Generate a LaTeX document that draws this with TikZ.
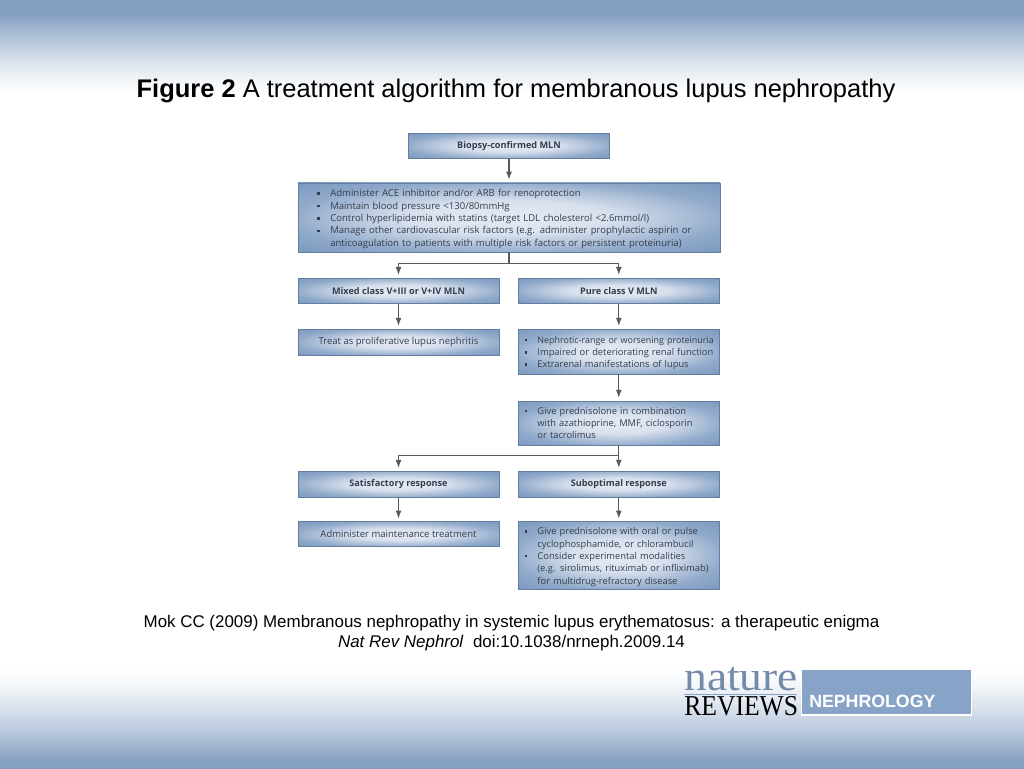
\documentclass[tikz,border=0pt]{standalone}
\usepackage{fontspec}
\setmainfont{Liberation Sans}
\newfontfamily\boxfont{Open Sans}
\newfontfamily\logoserif{Liberation Serif}
\usetikzlibrary{arrows.meta}
\definecolor{bandblue}{RGB}{133,160,195}
\definecolor{boxedge}{RGB}{116,148,188}
\definecolor{boxglow}{RGB}{230,235,244}
\definecolor{boxink}{RGB}{52,62,78}
\definecolor{lineink}{RGB}{84,90,98}
\definecolor{logoblue}{RGB}{136,163,200}
\pgfdeclareradialshading{boxshade}{\pgfpointorigin}{%
  color(0bp)=(boxglow); color(12bp)=(boxglow!88!boxedge); color(26bp)=(boxedge!75!boxglow); color(38bp)=(boxedge); color(50bp)=(boxedge)}
\tikzset{
  x=0.75pt,y=-0.75pt,
  fbox/.style={shading=boxshade,draw=boxedge!85!black,line width=0.4pt,inner sep=0pt,font=\boxfont\fontsize{7.15}{9.3}\selectfont,text=boxink},
  headbox/.style={fbox,font=\boxfont\bfseries\fontsize{6.85}{9.3}\selectfont,align=center},
  textbox/.style={fbox,align=center},
  listbox/.style={fbox,align=left},
  sidebox/.style={listbox,font=\boxfont\fontsize{7}{9.2}\selectfont,text width=150pt,minimum width=151pt},
  conn/.style={draw=lineink,line width=0.8pt},
  arr/.style={conn,-{Latex[length=6pt,width=4.5pt]},shorten >=2.2pt}
}
\newcommand{\sqb}{\rule[1.5pt]{1.8pt}{1.8pt}}
\newcommand{\itm}{\hspace*{14pt}\llap{\sqb\hspace{7.5pt}}}
\newcommand{\ind}{\hspace*{14pt}}
\newcommand{\itmb}{\hspace*{24pt}\llap{\sqb\hspace{8.1pt}}}
\newcommand{\topgap}{\rule{0pt}{7.8pt}}
\begin{document}
\begin{tikzpicture}
\useasboundingbox (0,0) rectangle (1024,768);
\fill[white] (0,0) rectangle (1024,768);
\foreach \yy in {0,...,95}{
  \pgfmathsetmacro\pct{100*min(1,max(0,(95-\yy)/80))^1.35}
  \fill[bandblue!\pct!white] (0,\yy) rectangle (1024,\yy+1.5);
}
\foreach \yy in {668,...,767}{
  \pgfmathsetmacro\pct{100*min(1,max(0,(\yy-668)/94))^1.35}
  \fill[bandblue!\pct!white] (0,\yy) rectangle (1024,\yy+1.5);
}

\node[font=\fontsize{19.1}{22}\selectfont,text=black] (title) at (516,91) {\textbf{Figure 2} A treatment algorithm for membranous lupus nephropathy};

\node[headbox,minimum width=150.5pt,minimum height=19pt] (bio) at (509,145.7) {Biopsy-confirmed MLN};
\node[listbox,minimum width=316.5pt,minimum height=52pt,text width=316pt] (plan) at (509,217.5) {%
 \itmb\topgap Administer ACE inhibitor and/or ARB for renoprotection\\
 \itmb Maintain blood pressure <130/80mmHg\\
 \itmb Control hyperlipidemia with statins (target LDL cholesterol <2.6mmol/l)\\
 \itmb Manage other cardiovascular risk factors (e.g. administer prophylactic aspirin or\\
 \hspace*{24pt}anticoagulation to patients with multiple risk factors or persistent proteinuria)};
\node[headbox,minimum width=150.5pt,minimum height=19pt] (mixed) at (398.5,290.7) {Mixed class V+III or V+IV MLN};
\node[headbox,minimum width=151pt,minimum height=19pt] (pure) at (618.8,290.7) {Pure class V MLN};
\node[textbox,minimum width=150.5pt,minimum height=19.5pt] (treat) at (398.5,342) {Treat as proliferative lupus nephritis};
\node[sidebox,minimum height=33.7pt] (neph) at (618.8,351.5) {%
 \itm\topgap{\fontsize{6.7}{9.2}\selectfont Nephrotic-range or worsening proteinuria}\\
 \itm Impaired or deteriorating renal function\\
 \itm Extrarenal manifestations of lupus};
\node[sidebox,minimum height=33pt] (give) at (618.8,423) {%
 \itm Give prednisolone in combination\\
 \ind with azathioprine, MMF, ciclosporin\\
 \ind or tacrolimus};
\node[sidebox,font=\boxfont\fontsize{7}{9.35}\selectfont,minimum height=50.5pt] (final) at (618.8,555.4) {%
 \itm\topgap Give prednisolone with oral or pulse\\
 \ind cyclophosphamide, or chlorambucil\\
 \itm Consider experimental modalities\\
 \ind (e.g. sirolimus, rituximab or infliximab)\\
 \ind for multidrug-refractory disease};
\node[headbox,minimum width=150.5pt,minimum height=19.5pt] (sat) at (398.5,484) {Satisfactory response};
\node[headbox,minimum width=151pt,minimum height=19.5pt] (sub) at (618.8,484) {Suboptimal response};
\node[textbox,minimum width=150.5pt,minimum height=18.7pt] (maint) at (398.5,534.2) {Administer maintenance treatment};

\coordinate (j1) at (plan.south |- 0,263.5);
\coordinate (j2) at (give.south |- 0,455.5);
\draw[arr] (bio) -- (plan);
\draw[conn] (plan) -- (j1);
\draw[arr] (j1) -| (mixed);
\draw[arr] (j1) -| (pure);
\draw[arr] (mixed) -- (treat);
\draw[arr] (pure) -- (neph);
\draw[arr] (neph) -- (give);
\draw[conn] (give) -- (j2);
\draw[arr] (j2) -| (sat);
\draw[arr] (j2) -- (sub);
\draw[arr] (sat) -- (maint);
\draw[arr] (sub) -- (final);

\node[font=\fontsize{12.7}{15.2}\selectfont,align=center,text=black] (cite) at (511.5,633) {Mok CC (2009) Membranous nephropathy in systemic lupus erythematosus: a therapeutic enigma\\ \textit{Nat Rev Nephrol}\ \ doi:10.1038/nrneph.2009.14};

\node[font=\logoserif\fontsize{31}{31}\selectfont,text=logoblue!85!black,inner sep=0pt,anchor=base west] (nature) at (684,690) {\scalebox{1.1}[1]{nature}};
\node[font=\logoserif\fontsize{21.6}{20}\selectfont,text=black,inner sep=0pt,anchor=base west] (reviews) at (684,715) {\scalebox{0.89}[1]{REVIEWS}};
\draw[logoblue,line width=0.5pt] (684,694) -- (797,694);
\node[fill=logoblue,draw=white,line width=0.8pt,minimum width=127.5pt,minimum height=34.5pt,inner sep=0pt] (brand) at (886.7,692) {};
\node[font=\bfseries\fontsize{13.3}{14}\selectfont,text=white,inner sep=0pt,anchor=base west] (neph2) at (809,707) {NEPHROLOGY};
\end{tikzpicture}
\end{document}
